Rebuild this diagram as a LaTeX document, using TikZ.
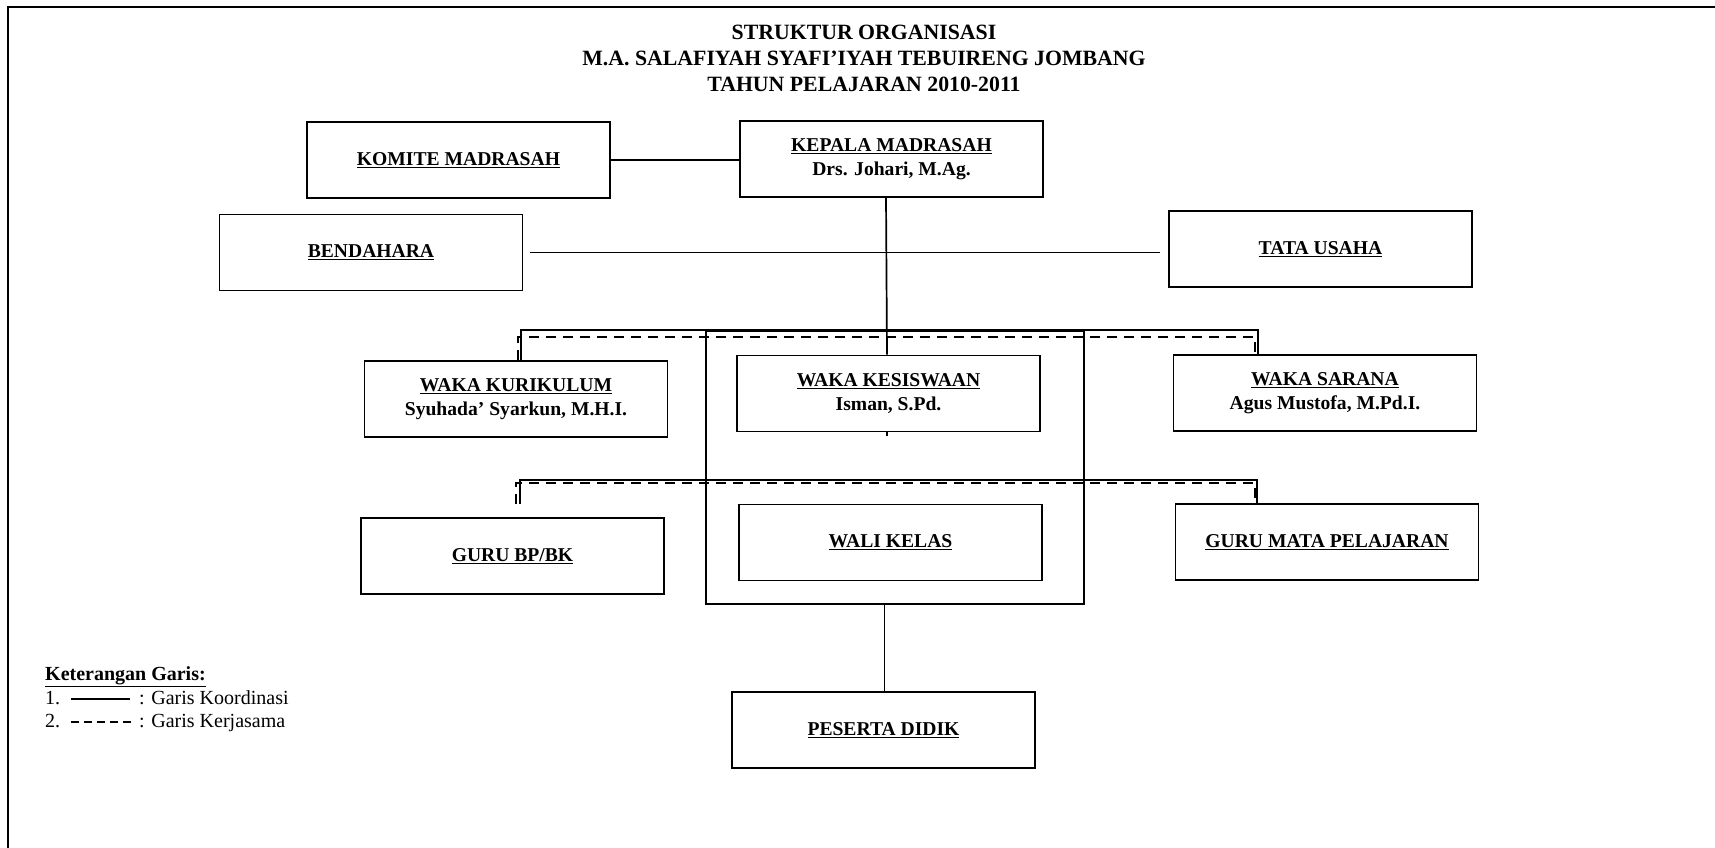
\documentclass[tikz,border=0pt]{standalone}
\usepackage{fontspec}
\setmainfont{Liberation Serif}
\usetikzlibrary{calc}
\newcommand{\boxfont}{\bfseries\fontsize{19.6}{23.5}\selectfont}
\newcommand{\legfont}{\fontsize{20}{23}\selectfont}
\begin{document}
\begin{tikzpicture}[x=1pt,y=-1pt,
  box/.style={draw, line width=1.9pt, minimum width=303pt, minimum height=76pt, inner sep=0pt, align=center, font=\boxfont},
  coord/.style={line width=1.7pt},
  coop/.style={line width=1.7pt, dash pattern=on 10pt off 7pt},
  leg/.style={anchor=base west, inner sep=0pt, font=\legfont}]
\useasboundingbox (0,0) rectangle (1715,847);
\draw[line width=2.2pt] (8,880) -- (8,7) -- (1750,7);
\node[font=\bfseries\fontsize{21.8}{26}\selectfont, align=center] (title) at (864,58)
  {STRUKTUR ORGANISASI\\M.A. SALAFIYAH SYAFI’IYAH TEBUIRENG JOMBANG\\TAHUN PELAJARAN 2010-2011};
\node[box] (komite) at (458.5,160) {\underline{KOMITE MADRASAH}};
\node[box] (kepala) at (891.5,159) {\underline{KEPALA MADRASAH}\\Drs. Johari, M.Ag.};
\node[box] (bend) at (371,252.5) {\underline{BENDAHARA}};
\node[box] (tata) at (1320.5,249) {\underline{TATA USAHA}};
\node[draw, line width=1.9pt, minimum width=378pt, minimum height=273pt] (kel) at (895,467.5) {};
\node[box] (wkur) at (516,399) {\underline{WAKA KURIKULUM}\\Syuhada’ Syarkun, M.H.I.};
\node[box] (wkes) at (888.5,393.5) {\underline{WAKA KESISWAAN}\\Isman, S.Pd.};
\node[box] (wsar) at (1325,393) {\underline{WAKA SARANA}\\Agus Mustofa, M.Pd.I.};
\node[box] (bpbk) at (512.5,556) {\underline{GURU BP/BK}};
\node[box] (wali) at (890.5,542.5) {\underline{WALI KELAS}};
\node[box] (gmp) at (1327,542) {\underline{GURU MATA PELAJARAN}};
\node[box] (pd) at (883.5,730) {\underline{PESERTA DIDIK}};
% connectors
\draw[coord] (komite.east) -- (komite.east -| kepala.west);
\draw[coord] ([xshift=-5.5pt]kepala.south) -- ([xshift=-1.5pt]wkes.north);
\draw[coord] ($(bend.east)+(7,0)$) -- ($(bend.east -| tata.west)+(-8,0)$);
\draw[coord] ([xshift=5pt]wkur.north) -- ++(0,-30) -| ([xshift=-67pt]wsar.north);
\draw[coop] ([xshift=2pt]wkur.north) -- ++(0,-23) -| ([xshift=-70pt]wsar.north);
\draw[coord] ([xshift=7.5pt,yshift=13pt]bpbk.north) -- ++(0,-24) -| ([xshift=-70pt]gmp.north);
\draw[coop] ([xshift=3.5pt,yshift=13pt]bpbk.north) -- ++(0,-21) -| ([xshift=-72pt]gmp.north);
\draw[coord] ([xshift=-1.5pt]wkes.south) -- ++(0,4);
\draw[coord] ([xshift=-10.5pt]kel.south) -- ([xshift=1pt]pd.north);
% legend
\node[leg] (ket) at (45,680) {\textbf{\underline{Keterangan Garis:}}};
\node[leg] (l1) at (45,704) {1.};
\coordinate (s1a) at (71,699); \coordinate (s1b) at (130,699);
\draw[line width=1.3pt] (s1a) -- (s1b);
\node[leg] (l1t) at (139,704) {: Garis Koordinasi};
\node[leg] (l2) at (45,727) {2.};
\coordinate (s2a) at (71,722); \coordinate (s2b) at (135,722);
\draw[line width=1.3pt, dash pattern=on 8.3pt off 4.6pt] (s2a) -- (s2b);
\node[leg] (l2t) at (139,727) {: Garis Kerjasama};
\end{tikzpicture}
\end{document}
